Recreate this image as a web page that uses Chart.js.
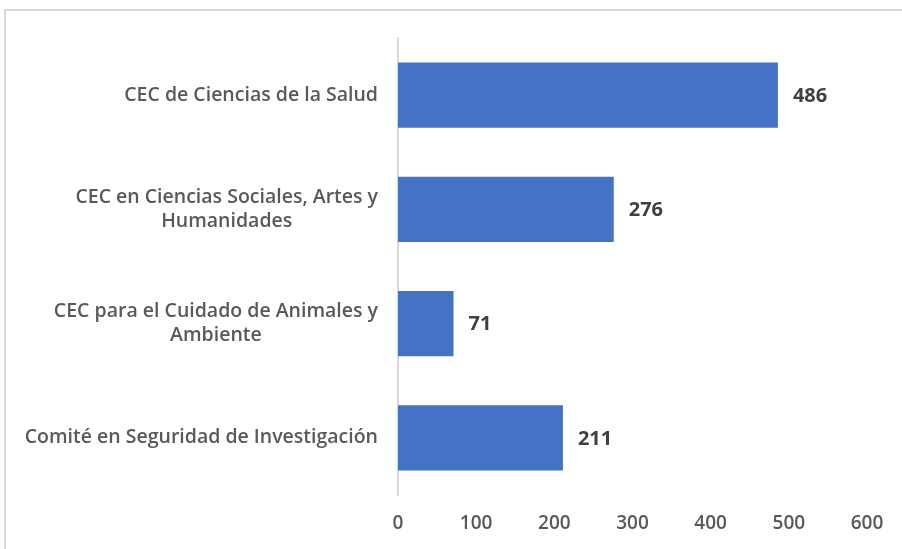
<!DOCTYPE html>
<html>
<head>
<meta charset="utf-8">
<script src="https://cdn.jsdelivr.net/npm/chart.js@4.4.1/dist/chart.umd.min.js"></script>
<style>
  html, body { margin: 0; padding: 0; background: #fff; }
  body { width: 902px; height: 549px; position: relative; overflow: hidden; }
  #frame {
    position: absolute; left: 4px; top: 9px; width: 1000px; height: 1000px;
    border-top: 2px solid #d9d9d9; border-left: 2px solid #d9d9d9;
  }
  #wrap { position: absolute; left: 0; top: 0; width: 902px; height: 549px; }
</style>
</head>
<body>
<div id="frame"></div>
<div id="wrap"><canvas id="barChart"></canvas></div>
<script>
const categories = [
    ['CEC de Ciencias de la Salud'],
    ['CEC en Ciencias Sociales, Artes y', 'Humanidades'],
    ['CEC para el Cuidado de Animales y', 'Ambiente'],
    ['Comité en Seguridad de Investigación']
];
const values = [486, 276, 71, 211];
const xTicks = [0, 100, 200, 300, 400, 500, 600];

const FONT = "'Open Sans', sans-serif";
const LABEL_SIZE = 19.5;

// category labels: block right aligned, lines centered inside the block
const catLabels = {
    id: 'catLabels',
    afterDraw(chart) {
        const ctx = chart.ctx;
        const yScale = chart.scales.y;
        const right = chart.chartArea.left - 20;
        ctx.save();
        ctx.font = `600 ${LABEL_SIZE}px ${FONT}`;
        ctx.fillStyle = '#595959';
        ctx.textAlign = 'center';
        ctx.textBaseline = 'middle';
        const lineH = 24;
        categories.forEach((lines, i) => {
            const maxW = Math.max(...lines.map(l => ctx.measureText(l).width));
            const cx = right - maxW / 2;
            const cy = yScale.getPixelForTick(i);
            const y0 = cy - (lines.length - 1) * lineH / 2;
            lines.forEach((l, j) => ctx.fillText(l, cx, y0 + j * lineH));
        });
        ctx.restore();
    }
};

// value labels at bar ends
const valueLabels = {
    id: 'valueLabels',
    afterDatasetsDraw(chart) {
        const ctx = chart.ctx;
        const meta = chart.getDatasetMeta(0);
        ctx.save();
        ctx.font = `bold 20px ${FONT}`;
        ctx.fillStyle = '#404040';
        ctx.textAlign = 'left';
        ctx.textBaseline = 'middle';
        meta.data.forEach((bar, i) => {
            ctx.fillText(String(values[i]), bar.x + 15, bar.y + 1);
        });
        ctx.restore();
    }
};

new Chart(document.getElementById('barChart'), {
    type: 'bar',
    data: {
        labels: categories,
        datasets: [{
            data: values,
            backgroundColor: '#4472C4',
            borderWidth: 0,
            barPercentage: 0.571,
            categoryPercentage: 1.0
        }]
    },
    options: {
        indexAxis: 'y',
        responsive: true,
        maintainAspectRatio: false,
        animation: false,
        layout: { padding: { top: 38, right: 35, left: 0, bottom: 0 } },
        plugins: {
            legend: { display: false },
            tooltip: { enabled: false }
        },
        scales: {
            x: {
                min: 0,
                max: 600,
                afterBuildTicks: (scale) => { scale.ticks = xTicks.map(v => ({ value: v })); },
                grid: { display: false, drawTicks: false },
                border: { display: false },
                ticks: {
                    color: '#595959',
                    font: { family: FONT, size: 19, weight: '600' },
                    padding: 17
                },
                afterFit: (scale) => { scale.height = 54; }
            },
            y: {
                grid: { display: false, drawTicks: false },
                border: { display: true, color: '#d9d9d9', width: 2 },
                ticks: { display: false },
                afterFit: (scale) => { scale.width = 398; }
            }
        }
    },
    plugins: [catLabels, valueLabels]
});
</script>
</body>
</html>
